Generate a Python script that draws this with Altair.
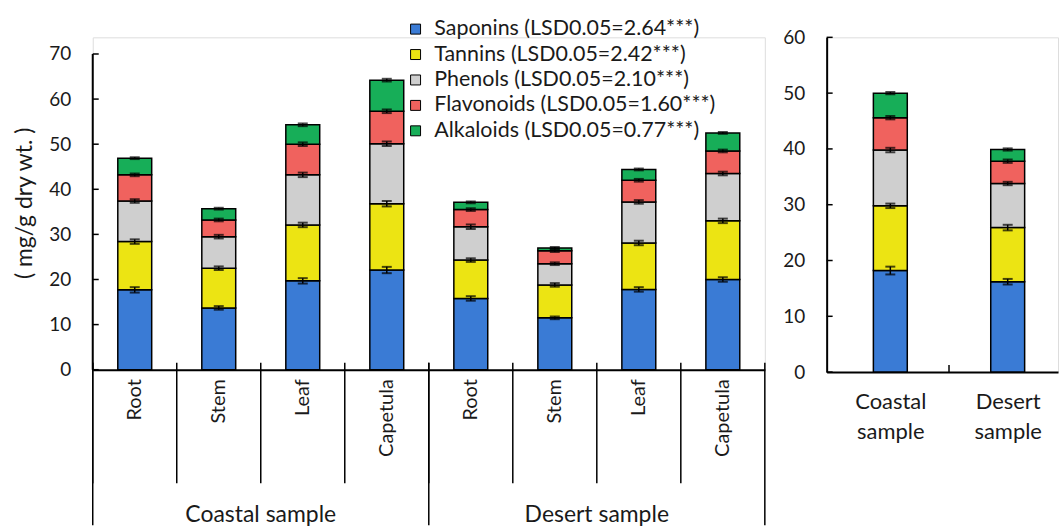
import altair as alt
import pandas as pd

sites = ["Coastal sample", "Desert sample"]
parts = ["Root", "Stem", "Leaf", "Capetula"]
compounds = ["Saponins", "Tannins", "Phenols", "Flavonoids", "Alkaloids"]
legend_labels = [
    "Saponins (LSD0.05=2.64***)",
    "Tannins (LSD0.05=2.42***)",
    "Phenols (LSD0.05=2.10***)",
    "Flavonoids (LSD0.05=1.60***)",
    "Alkaloids (LSD0.05=0.77***)",
]
colors = ["#3A7BD5", "#ECE413", "#CFCFCF", "#F0625E", "#17AE58"]

# order: Coastal Root, Stem, Leaf, Capetula, Desert Root, Stem, Leaf, Capetula
saponins = [17.7, 13.7, 19.7, 22.1, 15.8, 11.5, 17.8, 20.0]
tannins = [10.7, 8.8, 12.4, 14.7, 8.5, 7.3, 10.3, 13.0]
phenols = [9.0, 7.0, 11.1, 13.3, 7.4, 4.7, 9.1, 10.5]
flavonoids = [5.8, 3.7, 6.8, 7.2, 3.8, 2.9, 4.8, 5.0]
alkaloids = [3.7, 2.5, 4.3, 6.9, 1.6, 0.6, 2.4, 4.0]

saponins_err = [0.6, 0.4, 0.6, 0.7, 0.5, 0.3, 0.5, 0.5]
tannins_err = [0.5, 0.4, 0.5, 0.6, 0.4, 0.4, 0.5, 0.5]
phenols_err = [0.4, 0.4, 0.5, 0.5, 0.5, 0.3, 0.4, 0.4]
flavonoids_err = [0.3, 0.3, 0.4, 0.4, 0.3, 0.3, 0.3, 0.3]
alkaloids_err = [0.2, 0.2, 0.3, 0.3, 0.2, 0.2, 0.2, 0.2]

# means per site (right panel): Coastal, Desert
mean_saponins = [18.2, 16.2]
mean_tannins = [11.6, 9.7]
mean_phenols = [10.0, 7.9]
mean_flavonoids = [5.8, 4.0]
mean_alkaloids = [4.4, 2.1]
mean_err = [[0.7, 0.5], [0.4, 0.5], [0.4, 0.3], [0.3, 0.3], [0.2, 0.2]]

left_ticks = [0, 10, 20, 30, 40, 50, 60, 70]
right_ticks = [0, 10, 20, 30, 40, 50, 60]

FONT = "Lato"
TXT = "#1a1a1a"

values = [saponins, tannins, phenols, flavonoids, alkaloids]
errors = [saponins_err, tannins_err, phenols_err, flavonoids_err, alkaloids_err]
mean_values = [mean_saponins, mean_tannins, mean_phenols, mean_flavonoids, mean_alkaloids]

keys = [f"{s}|{p}" for s in sites for p in parts]

rows = []
for ki, key in enumerate(keys):
    cum = 0.0
    for ci, c in enumerate(compounds):
        v = values[ci][ki]
        cum += v
        e = errors[ci][ki]
        rows.append(dict(key=key, compound=c, legend=legend_labels[ci], idx=ci,
                         value=v, lo=cum - e, hi=cum + e))
df = pd.DataFrame(rows)

mrows = []
for si, s in enumerate(sites):
    cum = 0.0
    for ci, c in enumerate(compounds):
        v = mean_values[ci][si]
        cum += v
        e = mean_err[ci][si]
        mrows.append(dict(pos=si, site=s, compound=c, legend=legend_labels[ci], idx=ci,
                          value=v, lo=cum - e, hi=cum + e))
mdf = pd.DataFrame(mrows)

# ---------------- left panel ----------------
AXIS_PX_L = 316.6          # pixel length of the left value axis (0..70)
EXTRA_TOP = 16.7           # left panel plot area starts this much above "70"
LW = 674
LH = AXIS_PX_L + EXTRA_TOP
ltop = left_ticks[-1] * LH / AXIS_PX_L
yscale_l = alt.Scale(domain=[0, ltop], nice=False, zero=True)
xscale_l = alt.Scale(domain=keys, paddingInner=0, paddingOuter=0)

xaxis_l = alt.Axis(title=None, labelExpr="split(datum.label, '|')[1]",
                   labelAngle=270, labelFontSize=20, labelFont=FONT,
                   labelColor=TXT, ticks=False, domainColor="black",
                   domainWidth=2, labelPadding=9, grid=False)
yaxis_l = alt.Axis(values=left_ticks, title="( mg/g dry wt. )",
                   titleFontSize=23, titleFont=FONT, titleFontWeight="normal",
                   titleColor=TXT, titleX=-68, titleY=166, titleAngle=270,
                   titleBaseline="middle", titleAlign="center",
                   labelFontSize=19, labelFont=FONT, labelColor=TXT,
                   tickSize=0, labelPadding=22, grid=False, domain=False)

def XL(**kw):
    return alt.X("key:N", sort=keys, scale=xscale_l, axis=xaxis_l, **kw)

def YL(field):
    return alt.Y(field, scale=yscale_l, axis=yaxis_l)

color_enc = alt.Color(
    "legend:N", sort=legend_labels,
    scale=alt.Scale(domain=legend_labels, range=colors),
    legend=alt.Legend(orient="none", legendX=313, legendY=-19, title=None,
                      labelFontSize=21.5, labelFont=FONT, labelColor=TXT,
                      symbolType="square", symbolSize=100,
                      symbolStrokeColor="black", symbolStrokeWidth=1,
                      symbolOpacity=1, rowPadding=2.5, labelOffset=8,
                      padding=0, labelLimit=0),
)

bars_l = alt.Chart(df).mark_bar(width=34, stroke="black", strokeWidth=1.5).encode(
    x=XL(),
    y=alt.Y("value:Q", stack="zero", scale=yscale_l, axis=yaxis_l),
    color=color_enc,
    order=alt.Order("idx:Q"),
)
err_rule_l = alt.Chart(df).mark_rule(color="black", strokeWidth=1.5).encode(
    x=XL(), y=YL("lo:Q"), y2="hi:Q",
)
err_cap_hi_l = alt.Chart(df).mark_tick(color="black", size=10, thickness=2, orient="horizontal").encode(
    x=XL(), y=YL("hi:Q"),
)
err_cap_lo_l = alt.Chart(df).mark_tick(color="black", size=10, thickness=2, orient="horizontal").encode(
    x=XL(), y=YL("lo:Q"),
)
ydomain_l = alt.Chart(pd.DataFrame({"a": [0]})).mark_rule(color="black", strokeWidth=2).encode(
    x=alt.value(0),
    y=alt.Y(datum=left_ticks[0], scale=yscale_l, axis=yaxis_l, type="quantitative"),
    y2=alt.Y2(datum=left_ticks[-1]),
)
ytick_l = alt.Chart(pd.DataFrame({"v": left_ticks})).mark_rule(color="black", strokeWidth=1.5).encode(
    y=YL("v:Q"), x=alt.value(0), x2=alt.value(6)
)

kdf = pd.DataFrame({"key": keys})
sep_l = alt.Chart(kdf).mark_rule(color="black", strokeWidth=1.5).encode(
    x=XL(bandPosition=0), y=alt.value(LH - 7), y2=alt.value(LH + 114),
)
group_first = pd.DataFrame({"key": [f"{s}|{parts[0]}" for s in sites]})
group_last = pd.DataFrame({"key": [keys[-1]]})
sep_group = alt.Chart(group_first).mark_rule(color="black", strokeWidth=1.5).encode(
    x=XL(bandPosition=0), y=alt.value(LH - 7), y2=alt.value(LH + 156),
)
sep_end = alt.Chart(group_last).mark_rule(color="black", strokeWidth=1.5).encode(
    x=XL(bandPosition=1), y=alt.value(LH - 7), y2=alt.value(LH + 156),
)
glabel_df = pd.DataFrame({"key": [f"{s}|{parts[len(parts)//2]}" for s in sites], "site": sites})
glabels = alt.Chart(glabel_df).mark_text(fontSize=23, font=FONT, color=TXT, baseline="middle").encode(
    x=XL(bandPosition=0), y=alt.value(LH + 146), text="site:N",
)
anchor_l = alt.Chart(pd.DataFrame({"a": [0]})).mark_rule(strokeOpacity=0, strokeWidth=1).encode(
    x=alt.value(-80), x2=alt.value(LW + 2), y=alt.value(-23.3)
)

left = alt.layer(bars_l, err_rule_l, err_cap_hi_l, err_cap_lo_l, ydomain_l, ytick_l, sep_l,
                 sep_group, sep_end, glabels, anchor_l).properties(width=LW, height=LH)

# ---------------- right panel ----------------
RW, RH = 232, 335.7
STEP_R = 123
yscale_r = alt.Scale(domain=[right_ticks[0], right_ticks[-1]], nice=False, zero=True)
xscale_r = alt.Scale(domain=[-0.5, -0.5 + RW / STEP_R], nice=False, zero=False)
site_arr = "[" + ",".join(f"'{s}'" for s in sites) + "]"

xaxis_r = alt.Axis(values=list(range(len(sites))), title=None,
                   labelExpr=f"split({site_arr}[datum.value], ' ')",
                   labelAngle=0, labelFontSize=22, labelFont=FONT,
                   labelColor=TXT, labelLineHeight=30, ticks=False,
                   grid=False, domainColor="black", domainWidth=2,
                   labelPadding=20, labelBaseline="top")
yaxis_r = alt.Axis(values=right_ticks, title=None, labelFontSize=19,
                   labelFont=FONT, labelColor=TXT, tickSize=0,
                   labelPadding=22, grid=False, domainColor="black",
                   domainWidth=2)

def XR(field="pos:Q"):
    return alt.X(field, scale=xscale_r, axis=xaxis_r)

def YR(field):
    return alt.Y(field, scale=yscale_r, axis=yaxis_r)

bars_r = alt.Chart(mdf).mark_bar(width=34, stroke="black", strokeWidth=1.5).encode(
    x=XR(),
    y=alt.Y("value:Q", stack="zero", scale=yscale_r, axis=yaxis_r),
    color=alt.Color("legend:N", sort=legend_labels,
                    scale=alt.Scale(domain=legend_labels, range=colors), legend=None),
    order=alt.Order("idx:Q"),
)
err_rule_r = alt.Chart(mdf).mark_rule(color="black", strokeWidth=1.5).encode(
    x=XR(), y=YR("lo:Q"), y2="hi:Q",
)
err_cap_hi_r = alt.Chart(mdf).mark_tick(color="black", size=10, thickness=2, orient="horizontal").encode(
    x=XR(), y=YR("hi:Q"),
)
err_cap_lo_r = alt.Chart(mdf).mark_tick(color="black", size=10, thickness=2, orient="horizontal").encode(
    x=XR(), y=YR("lo:Q"),
)
ytick_r = alt.Chart(pd.DataFrame({"v": right_ticks})).mark_rule(color="black", strokeWidth=1.5).encode(
    y=YR("v:Q"), x=alt.value(0), x2=alt.value(6)
)
mid_df = pd.DataFrame({"m": [i + 0.5 for i in range(len(sites) - 1)]})
xtick_r = alt.Chart(mid_df).mark_rule(color="black", strokeWidth=1.5).encode(
    x=XR("m:Q"), y=alt.value(RH - 7), y2=alt.value(RH)
)
anchor_r = alt.Chart(pd.DataFrame({"a": [0]})).mark_rule(strokeOpacity=0, strokeWidth=1).encode(
    x=alt.value(-56), x2=alt.value(RW), y=alt.value(-23.3)
)

right = alt.layer(bars_r, err_rule_r, err_cap_hi_r, err_cap_lo_r, ytick_r, xtick_r,
                  anchor_r).properties(width=RW, height=RH)

chart = alt.hconcat(left, right, spacing=2).resolve_scale(
    color="independent", x="independent", y="independent"
).resolve_legend(color="independent").properties(
    padding={"left": 12, "top": 12.7, "right": 0, "bottom": 0}
).configure_view(stroke=None).configure(font=FONT)

chart.save("out.html", embed_options={"renderer": "svg", "actions": False})
